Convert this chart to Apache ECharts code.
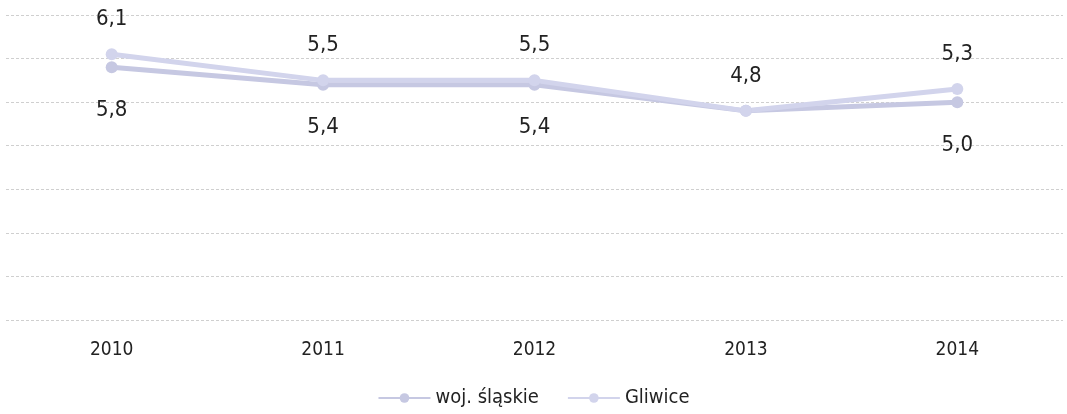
<!DOCTYPE html>
<html><head><meta charset="utf-8">
<script src="https://cdn.jsdelivr.net/npm/echarts@6/dist/echarts.min.js"></script>
<style>html,body{margin:0;padding:0;background:#fff}#c{width:1067px;height:414px}</style>
</head><body><div id="c"></div>
<script>
const categories = ['2010','2011','2012','2013','2014'];
const slaskie = [5.8, 5.4, 5.4, 4.8, 5.0];
const gliwice = [6.1, 5.5, 5.5, 4.8, 5.3];
const yTicks = [0,1,2,3,4,5,6,7];

const fmt = p => p.value.toFixed(1).replace('.', ',');
const font = '"DejaVu Sans Condensed", "Open Sans", sans-serif';
const chart = echarts.init(document.getElementById('c'));
chart.setOption({
  animation: false,
  textStyle: {fontFamily: font},
  grid: {left: 6, right: 4, top: 15, bottom: 94},
  legend: {
    bottom: 1, left: 'center', itemWidth: 52, itemHeight: 12, itemGap: 28,
    textStyle: {fontSize: 20, color: '#222', fontFamily: font},
    data: ['woj. śląskie', 'Gliwice']
  },
  xAxis: {
    type: 'category', data: categories, boundaryGap: true,
    axisLine: {show: false}, axisTick: {show: false},
    axisLabel: {fontSize: 19, color: '#222', margin: 21}
  },
  yAxis: {
    type: 'value', min: yTicks[0], max: yTicks[yTicks.length-1], interval: 1,
    axisLabel: {show: false}, axisLine: {show: false}, axisTick: {show: false},
    splitLine: {lineStyle: {color: '#cfcfcf', type: [3, 2], width: 1}}
  },
  series: [
    {
      name: 'woj. śląskie', type: 'line', data: slaskie.map((v, i) => ({value: v, label: {show: i !== 3}})),
      symbol: 'circle', symbolSize: 12,
      lineStyle: {color: '#c6c8e2', width: 5},
      itemStyle: {color: '#c6c8e2'},
      label: {show: true, position: 'bottom', distance: 26, fontSize: 22, color: '#222', formatter: fmt}
    },
    {
      name: 'Gliwice', type: 'line', data: gliwice,
      symbol: 'circle', symbolSize: 12,
      lineStyle: {color: '#d2d4ec', width: 5},
      itemStyle: {color: '#d2d4ec'},
      label: {show: true, position: 'top', distance: 18, fontSize: 22, color: '#222', formatter: fmt}
    }
  ]
});
</script></body></html>
